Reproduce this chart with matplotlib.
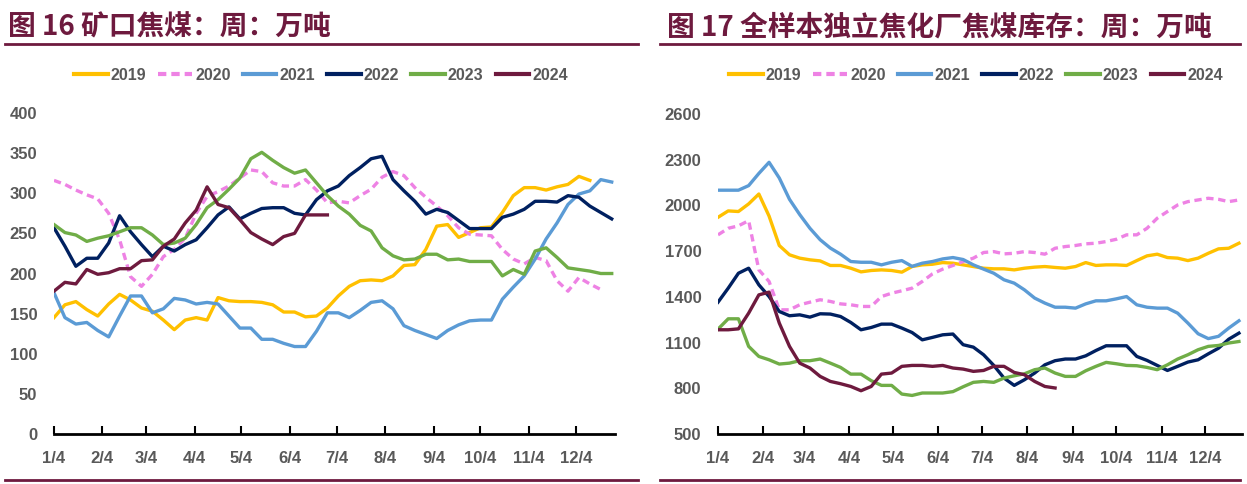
import matplotlib
matplotlib.use('Agg')
import matplotlib.pyplot as plt
from matplotlib.lines import Line2D
import pandas as pd

# ---- data: weekly values, index 0 = 1/4 ----
years = ['2019', '2020', '2021', '2022', '2023', '2024']

# 图16 矿口焦煤 (万吨)
mine_2019 = [145, 161, 165, 155, 147, 162, 174, 167, 157, 153,
             142, 130, 142, 145, 142, 170, 166, 165, 165, 164,
             161, 152, 152, 146, 147, 157, 172, 184, 191, 192,
             191, 197, 210, 211, 230, 259, 261, 245, 251, 257,
             258, 276, 297, 307, 307, 304, 308, 311, 321, 316]
mine_2020 = [316, 311, 304, 298, 293, 275, 242, 196, 184, 199,
             221, 230, 244, 275, 296, 302, 309, 319, 329, 327,
             313, 309, 309, 317, 304, 288, 290, 288, 297, 305,
             320, 327, 322, 307, 295, 284, 272, 257, 249, 248,
             247, 230, 218, 212, 220, 216, 191, 178, 195, 187, 180]
mine_2021 = [176, 145, 137, 139, 129, 121, 147, 172, 172, 151,
             156, 169, 167, 162, 164, 162, 147, 132, 132, 118,
             118, 113, 109, 109, 128, 151, 151, 145, 154, 164,
             166, 156, 135, 129, 124, 119, 129, 136, 141, 142,
             142, 168, 183, 197, 218, 243, 263, 286, 299, 303, 317, 314]
mine_2022 = [257, 234, 209, 219, 219, 238, 272, 252, 236, 221,
             234, 228, 236, 242, 257, 273, 283, 268, 275, 281,
             282, 282, 275, 273, 292, 303, 309, 322, 332, 343,
             346, 317, 303, 290, 274, 280, 276, 266, 256, 256,
             256, 270, 274, 280, 290, 290, 289, 297, 295, 284, 276, 268]
mine_2023 = [261, 251, 248, 240, 244, 247, 252, 257, 257, 248,
             236, 238, 244, 261, 282, 292, 305, 319, 343, 351,
             341, 332, 325, 329, 313, 297, 284, 274, 260, 253,
             232, 222, 217, 218, 224, 224, 217, 218, 215, 215,
             215, 197, 205, 199, 228, 232, 220, 207, 205, 203, 200, 200]
mine_2024 = [178, 189, 187, 205, 199, 201, 206, 206, 216, 217,
             234, 243, 263, 279, 308, 286, 282, 267, 251, 243,
             236, 246, 250, 273, 273, 273]

# 图17 全样本独立焦化厂焦煤库存 (万吨)
stock_2019 = [1922, 1964, 1960, 2010, 2075, 1930, 1737, 1676, 1654, 1643,
              1636, 1606, 1606, 1588, 1564, 1573, 1577, 1573, 1562, 1599,
              1610, 1614, 1625, 1621, 1610, 1599, 1588, 1584, 1584, 1577,
              1588, 1595, 1599, 1593, 1588, 1599, 1625, 1606, 1610, 1610,
              1606, 1638, 1669, 1680, 1658, 1654, 1638, 1654, 1686, 1715, 1719, 1752]
stock_2020 = [1807, 1850, 1866, 1900, 1577, 1501, 1315, 1315, 1348, 1365,
              1381, 1370, 1354, 1348, 1337, 1337, 1402, 1424, 1440, 1457,
              1501, 1551, 1582, 1606, 1632, 1654, 1691, 1697, 1682, 1686,
              1697, 1691, 1680, 1719, 1730, 1737, 1748, 1752, 1763, 1778,
              1807, 1807, 1850, 1916, 1960, 2003, 2025, 2036, 2047, 2040, 2025, 2036]
stock_2021 = [2100, 2100, 2100, 2130, 2210, 2283, 2180, 2040, 1940, 1850,
              1775, 1720, 1680, 1632, 1627, 1627, 1610, 1627, 1638, 1600,
              1621, 1632, 1649, 1658, 1645, 1610, 1582, 1555, 1512, 1490,
              1446, 1392, 1359, 1332, 1332, 1326, 1354, 1374, 1374, 1387,
              1402, 1348, 1332, 1326, 1326, 1293, 1228, 1158, 1126, 1141, 1195, 1243]
stock_2022 = [1365, 1457, 1555, 1588, 1479, 1402, 1304, 1276, 1282, 1267,
              1289, 1287, 1271, 1232, 1184, 1199, 1221, 1221, 1195, 1166,
              1118, 1134, 1151, 1156, 1086, 1070, 1020, 950, 867, 819,
              856, 900, 954, 981, 992, 992, 1013, 1048, 1079, 1079,
              1079, 1009, 983, 950, 917, 944, 972, 987, 1026, 1063, 1122, 1162]
stock_2023 = [1188, 1256, 1256, 1075, 1009, 987, 959, 965, 981, 981,
              992, 965, 937, 893, 893, 850, 819, 819, 762, 753,
              769, 769, 769, 778, 810, 839, 845, 839, 867, 882,
              895, 922, 933, 900, 878, 878, 915, 944, 970, 961,
              950, 948, 937, 922, 954, 992, 1020, 1053, 1075, 1081, 1097, 1107]
stock_2024 = [1184, 1184, 1190, 1293, 1413, 1431, 1228, 1075, 965, 933,
              878, 845, 830, 812, 784, 812, 893, 900, 944, 950,
              950, 944, 950, 933, 926, 911, 917, 944, 944, 904,
              889, 845, 812, 802]

tick_labels = ['1/4', '2/4', '3/4', '4/4', '5/4', '6/4',
               '7/4', '8/4', '9/4', '10/4', '11/4', '12/4']

# ---- style ----
colors = ['#FFC000', '#EE82E4', '#5B9BD5', '#002060', '#70AD47', '#6E1A3E']
title_c = '#6E1A3E'
text_c = '#595959'
num_font = ['DejaVu Sans Condensed', 'Liberation Sans', 'DejaVu Sans']
cjk_font = ['Noto Sans CJK SC', 'DejaVu Sans']

# tick positions in weeks from 1/4
start = pd.Timestamp(2023, 1, 4)
tick_pos = [(pd.Timestamp(2023, m, 4) - start).days / 7 for m in range(1, 13)]

W, H = 1247, 484
fig = plt.figure(figsize=(W / 100, H / 100), dpi=100)


def draw_panel(ax, series, ylim, yticks):
    for i, (vals, c) in enumerate(zip(series, colors)):
        ls = (0, (2.2, 1.4)) if i == 1 else '-'
        ax.plot(range(len(vals)), vals, color=c, lw=2.4, ls=ls,
                solid_joinstyle='round')
    ax.set_xlim(0, 51.3)
    ax.set_ylim(*ylim)
    ax.set_yticks(yticks)
    ax.set_xticks(tick_pos)
    ax.set_xticklabels(tick_labels)
    for s in ['top', 'right', 'left']:
        ax.spines[s].set_visible(False)
    ax.spines['bottom'].set_linewidth(2)
    ax.spines['bottom'].set_color('black')
    ax.tick_params(axis='x', direction='in', length=6, width=1.5,
                   color='black', pad=12)
    ax.tick_params(axis='y', length=0, pad=12)
    for lab in ax.get_xticklabels() + ax.get_yticklabels():
        lab.set_family(num_font)
        lab.set_fontsize(12)
        lab.set_fontweight('bold')
        lab.set_color(text_c)


ax1 = fig.add_axes([54 / W, 50 / H, (615 - 54) / W, (434 - 113) / H])
draw_panel(ax1, [mine_2019, mine_2020, mine_2021, mine_2022, mine_2023, mine_2024],
           (0, 400), range(0, 401, 50))

ax2 = fig.add_axes([718 / W, 50 / H, (1242 - 718) / W, (434 - 114) / H])
draw_panel(ax2, [stock_2019, stock_2020, stock_2021, stock_2022, stock_2023, stock_2024],
           (500, 2600), range(500, 2601, 300))

# titles and rules
fig.text(8 / W, 1 - 36 / H, '图 16 矿口焦煤：周：万吨', fontsize=20,
         fontweight='bold', color=title_c, family=cjk_font, va='baseline')
fig.text(667 / W, 1 - 36 / H, '图 17 全样本独立焦化厂焦煤库存：周：万吨', fontsize=20,
         fontweight='bold', color=title_c, family=cjk_font, va='baseline')
for x0, x1 in [(5, 638), (660, 1240)]:
    for y in (44, 480):
        fig.add_artist(Line2D([x0 / W, x1 / W], [1 - y / H] * 2,
                              transform=fig.transFigure, color=title_c, lw=2))

# legends
handles = [Line2D([], [], color=c, lw=3, ls=(0, (2, 1.2)) if i == 1 else '-')
           for i, c in enumerate(colors)]
for cx in (321, 976):
    leg = fig.legend(handles, years, loc='center',
                     bbox_to_anchor=(cx / W, 1 - 75 / H), ncol=6, frameon=False,
                     handlelength=2.1, handletextpad=0.2, columnspacing=0.75,
                     prop={'family': num_font, 'size': 11.5, 'weight': 'bold'})
    for t in leg.get_texts():
        t.set_color(text_c)

fig.savefig('out.png', dpi=100)
